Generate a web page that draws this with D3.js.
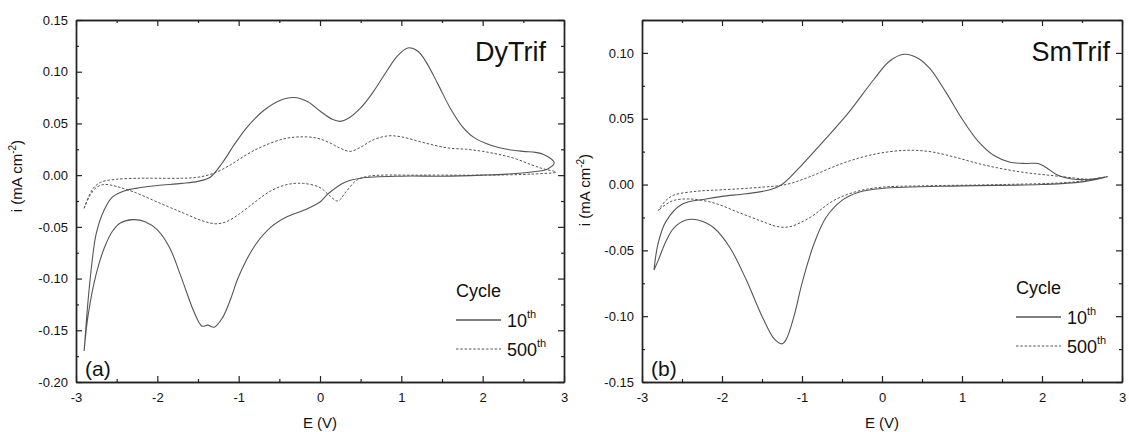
<!DOCTYPE html>
<html>
<head>
<meta charset="utf-8">
<script src="https://cdn.jsdelivr.net/npm/d3@7"></script>
<style>
  html, body { margin: 0; padding: 0; background: #fff; }
  svg { display: block; font-family: "Liberation Sans", Arial, sans-serif; }
</style>
</head>
<body>
<svg id="chart" width="1129" height="432"></svg>
<script>
// Cyclic voltammograms, [E (V), i (mA cm^-2)] traced along the scan direction.
const dyCycle10 = [
  [-2.9,-0.17],[-2.85,-0.12],[-2.8,-0.082],[-2.75,-0.056],[-2.65,-0.033],[-2.55,-0.021],
  [-2.4,-0.015],[-2.2,-0.012],[-2.0,-0.01],[-1.7,-0.008],[-1.5,-0.006],[-1.35,-0.002],
  [-1.2,0.012],[-1.05,0.03],[-0.9,0.046],[-0.7,0.062],[-0.5,0.072],[-0.32,0.075],
  [-0.15,0.071],[0.0,0.062],[0.15,0.054],[0.25,0.052],[0.35,0.055],[0.5,0.065],
  [0.65,0.08],[0.8,0.098],[0.95,0.115],[1.08,0.123],[1.2,0.12],[1.3,0.11],[1.45,0.088],
  [1.6,0.065],[1.75,0.047],[1.9,0.036],[2.1,0.029],[2.3,0.025],[2.5,0.023],[2.65,0.022],
  [2.75,0.02],[2.88,0.012],
  [2.8,0.006],[2.6,0.003],[2.3,0.001],[2.0,0.0],[1.5,-0.001],[1.0,-0.001],[0.5,-0.003],[0.3,-0.007],
  [0.1,-0.018],[0.0,-0.026],[-0.2,-0.034],[-0.4,-0.04],[-0.6,-0.05],[-0.8,-0.068],
  [-1.0,-0.098],[-1.1,-0.12],[-1.2,-0.138],[-1.3,-0.147],[-1.38,-0.145],[-1.45,-0.146],
  [-1.55,-0.132],[-1.7,-0.1],[-1.85,-0.07],[-2.0,-0.053],[-2.15,-0.045],[-2.3,-0.043],
  [-2.45,-0.046],[-2.55,-0.054],[-2.65,-0.07],[-2.75,-0.095],[-2.85,-0.135],[-2.9,-0.17]
];
const dyCycle500 = [
  [-2.9,-0.032],[-2.8,-0.014],[-2.7,-0.007],[-2.5,-0.004],[-2.2,-0.003],[-2.0,-0.003],
  [-1.7,-0.003],[-1.5,-0.002],[-1.3,0.002],[-1.1,0.01],[-0.9,0.02],[-0.7,0.028],
  [-0.45,0.035],[-0.25,0.037],[-0.05,0.036],[0.1,0.032],[0.25,0.026],[0.37,0.023],
  [0.5,0.027],[0.65,0.034],[0.84,0.038],[1.0,0.037],[1.2,0.033],[1.4,0.029],[1.6,0.026],
  [1.8,0.025],[2.0,0.023],[2.2,0.02],[2.4,0.016],[2.6,0.01],[2.75,0.006],[2.9,0.003],
  [2.6,0.001],[2.0,0.0],[1.2,0.0],[0.6,-0.001],[0.45,-0.005],[0.32,-0.016],[0.22,-0.025],
  [0.12,-0.02],[0.0,-0.012],[-0.2,-0.008],[-0.4,-0.009],[-0.6,-0.015],[-0.8,-0.026],
  [-1.0,-0.038],[-1.15,-0.045],[-1.28,-0.047],[-1.45,-0.044],[-1.7,-0.036],[-2.0,-0.026],
  [-2.3,-0.016],[-2.5,-0.011],[-2.65,-0.009],[-2.75,-0.012],[-2.83,-0.02],[-2.9,-0.032]
];
const smCycle10 = [
  [-2.85,-0.065],[-2.8,-0.045],[-2.7,-0.028],[-2.5,-0.015],[-2.2,-0.011],[-2.0,-0.009],
  [-1.7,-0.007],[-1.4,-0.004],[-1.25,0.0],[-1.0,0.015],[-0.7,0.035],[-0.4,0.056],
  [-0.1,0.08],[0.1,0.094],[0.28,0.099],[0.45,0.096],[0.6,0.088],[0.8,0.07],[1.0,0.05],
  [1.2,0.033],[1.4,0.022],[1.6,0.017],[1.8,0.016],[1.95,0.016],[2.05,0.013],[2.2,0.007],
  [2.4,0.004],[2.6,0.004],[2.82,0.006],
  [2.5,0.002],[2.0,0.0],[1.0,-0.001],[0.0,-0.003],[-0.3,-0.006],[-0.5,-0.012],
  [-0.7,-0.025],[-0.85,-0.045],[-1.0,-0.075],[-1.1,-0.1],[-1.2,-0.118],[-1.25,-0.121],
  [-1.35,-0.117],[-1.5,-0.1],[-1.7,-0.072],[-1.9,-0.048],[-2.1,-0.033],[-2.3,-0.027],
  [-2.45,-0.027],[-2.6,-0.033],[-2.7,-0.043],[-2.8,-0.058],[-2.85,-0.065]
];
const smCycle500 = [
  [-2.8,-0.02],[-2.7,-0.012],[-2.6,-0.008],[-2.3,-0.005],[-2.0,-0.004],[-1.5,-0.002],
  [-1.2,0.0],[-0.9,0.006],[-0.5,0.016],[-0.1,0.023],[0.3,0.026],[0.6,0.025],[0.9,0.021],
  [1.2,0.016],[1.5,0.012],[1.8,0.009],[2.1,0.007],[2.4,0.005],[2.6,0.004],[2.82,0.006],
  [2.4,0.002],[1.5,0.0],[0.5,-0.001],[0.0,-0.002],[-0.3,-0.005],[-0.6,-0.012],
  [-0.9,-0.025],[-1.15,-0.032],[-1.3,-0.032],[-1.5,-0.028],[-1.8,-0.021],[-2.1,-0.014],
  [-2.4,-0.011],[-2.6,-0.012],[-2.7,-0.015],[-2.8,-0.02]
];

const xTicks = [-3, -2, -1, 0, 1, 2, 3];
const xMinor = [-2.5, -1.5, -0.5, 0.5, 1.5, 2.5];
const dyYTicks = [0.15, 0.10, 0.05, 0.00, -0.05, -0.10, -0.15, -0.20];
const smYTicks = [0.10, 0.05, 0.00, -0.05, -0.10, -0.15];
const legendLabels = ["10", "500"];

const svg = d3.select("#chart");
const axisColor = "#222";
const lineColor = "#555";
const textColor = "#111";
// plain hyphen-minus for negative tick labels
const locale = d3.formatLocale({ decimal: ".", thousands: ",", grouping: [3], currency: ["", ""], minus: "-" });

function drawPanel(p) {
  const x = d3.scaleLinear().domain([-3, 3]).range([p.x0, p.x1]);
  const y = d3.scaleLinear().domain(p.yDomain).range([p.y1, p.y0]);
  const g = svg.append("g");

  const yMinor = d3.range(p.yDomain[0], p.yDomain[1] + 1e-9, 0.025)
    .filter(v => !p.yTicks.some(t => Math.abs(t - v) < 1e-6));

  // major axes with labels
  g.append("g").attr("transform", `translate(0,${p.y1})`)
    .call(d3.axisBottom(x).tickValues(xTicks).tickFormat(locale.format("d")).tickSizeInner(-6).tickSizeOuter(0).tickPadding(11));
  g.append("g").attr("transform", `translate(${p.x0},0)`)
    .call(d3.axisLeft(y).tickValues(p.yTicks).tickFormat(locale.format(".2f")).tickSizeInner(-6).tickSizeOuter(0).tickPadding(8));
  // mirrored axes
  g.append("g").attr("transform", `translate(0,${p.y0})`)
    .call(d3.axisTop(x).tickValues(xTicks).tickFormat("").tickSizeInner(-6).tickSizeOuter(0));
  g.append("g").attr("transform", `translate(${p.x1},0)`)
    .call(d3.axisRight(y).tickValues(p.yTicks).tickFormat("").tickSizeInner(-6).tickSizeOuter(0));
  // minor ticks
  g.append("g").attr("transform", `translate(0,${p.y1})`)
    .call(d3.axisBottom(x).tickValues(xMinor).tickFormat("").tickSizeInner(-3).tickSizeOuter(0));
  g.append("g").attr("transform", `translate(0,${p.y0})`)
    .call(d3.axisTop(x).tickValues(xMinor).tickFormat("").tickSizeInner(-3).tickSizeOuter(0));
  g.append("g").attr("transform", `translate(${p.x0},0)`)
    .call(d3.axisLeft(y).tickValues(yMinor).tickFormat("").tickSizeInner(-3).tickSizeOuter(0));
  g.append("g").attr("transform", `translate(${p.x1},0)`)
    .call(d3.axisRight(y).tickValues(yMinor).tickFormat("").tickSizeInner(-3).tickSizeOuter(0));

  g.selectAll(".domain").attr("stroke", axisColor).attr("stroke-width", 1.4);
  g.selectAll(".tick line").attr("stroke", axisColor).attr("stroke-width", 1.2);
  g.selectAll(".tick text").attr("fill", textColor).attr("font-size", 13)
    .attr("font-family", "'Liberation Sans', Arial, sans-serif");

  // curves
  const line = d3.line().x(d => x(d[0])).y(d => y(d[1])).curve(d3.curveCatmullRom.alpha(0.5));
  g.append("path").datum(p.solid).attr("d", line)
    .attr("fill", "none").attr("stroke", lineColor).attr("stroke-width", 1.1);
  g.append("path").datum(p.dashed).attr("d", line)
    .attr("fill", "none").attr("stroke", lineColor).attr("stroke-width", 1)
    .attr("stroke-dasharray", "2.5,1.8");

  // axis titles
  g.append("text").attr("x", (p.x0 + p.x1) / 2).attr("y", 428)
    .attr("text-anchor", "middle").attr("font-size", 15).attr("fill", textColor).text("E (V)");
  const yt = g.append("text")
    .attr("transform", `translate(${p.yTitleX},${p.yTitleY}) rotate(-90)`)
    .attr("text-anchor", "middle").attr("font-size", 15).attr("fill", textColor);
  yt.append("tspan").text("i (mA cm");
  yt.append("tspan").attr("dy", -6).attr("font-size", 10).text("-2");
  yt.append("tspan").attr("dy", 6).text(")");

  // panel title and tag
  g.append("text").attr("x", p.titleX).attr("y", 61).attr("text-anchor", "end")
    .attr("font-size", 27).attr("fill", textColor).text(p.title);
  g.append("text").attr("x", p.x0 + 9).attr("y", 376)
    .attr("font-size", 21).attr("fill", textColor).text(p.tag);

  // legend
  const lx = p.legendX, ly = p.legendY;
  g.append("text").attr("x", lx).attr("y", ly).attr("font-size", 18).attr("fill", textColor).text("Cycle");
  legendLabels.forEach((lab, k) => {
    const yy = ly + 23 + k * 29;
    g.append("line").attr("x1", lx).attr("x2", lx + 45).attr("y1", yy).attr("y2", yy)
      .attr("stroke", lineColor).attr("stroke-width", k === 0 ? 1.3 : 1)
      .attr("stroke-dasharray", k === 0 ? null : "2.5,1.8");
    const t = g.append("text").attr("x", lx + 51).attr("y", yy + 7)
      .attr("font-size", 18).attr("fill", textColor);
    t.append("tspan").text(lab);
    t.append("tspan").attr("dy", -9).attr("font-size", 11).text("th");
  });
}

drawPanel({
  x0: 76, x1: 564, y0: 20, y1: 382,
  yDomain: [-0.20, 0.15], yTicks: dyYTicks,
  solid: dyCycle10, dashed: dyCycle500,
  title: "DyTrif", titleX: 546, tag: "(a)",
  yTitleX: 22, yTitleY: 176,
  legendX: 456, legendY: 297
});
drawPanel({
  x0: 642, x1: 1122, y0: 20, y1: 382,
  yDomain: [-0.15, 0.125], yTicks: smYTicks,
  solid: smCycle10, dashed: smCycle500,
  title: "SmTrif", titleX: 1110, tag: "(b)",
  yTitleX: 590, yTitleY: 190,
  legendX: 1016, legendY: 294
});
</script>
</body>
</html>
